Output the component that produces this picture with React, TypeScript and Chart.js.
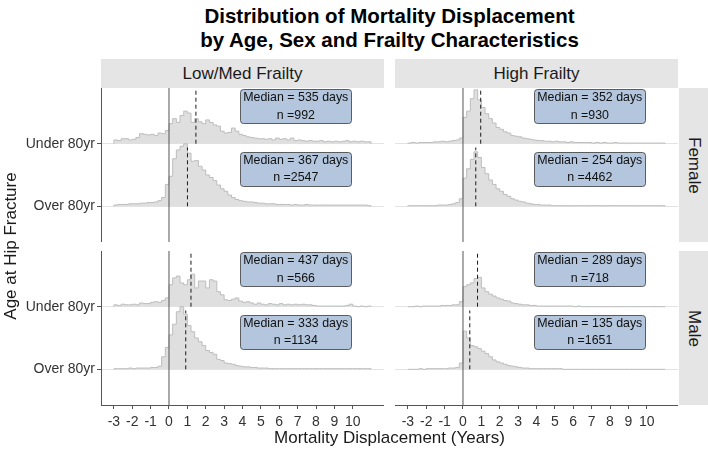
import React, { useEffect, useRef } from 'react';
import { Chart, registerables } from 'chart.js';

Chart.register(...registerables);

const FONT = "'Liberation Sans', Arial, Helvetica, sans-serif";

// ---------------- data ----------------
const titleLines = ['Distribution of Mortality Displacement', 'by Age, Sex and Frailty Characteristics'];
const frailtyGroups = ['Low/Med Frailty', 'High Frailty'];
const sexGroups = ['Female', 'Male'];
const ageGroups = ['Under 80yr', 'Over 80yr'];
const xTicks = [-3, -2, -1, 0, 1, 2, 3, 4, 5, 6, 7, 8, 9, 10];
const xTitle = 'Mortality Displacement (Years)';
const yTitle = 'Age at Hip Fracture';

// histogram bins (years): start and width; values are relative ridge heights (100 = one row spacing)
const binStart = -3;
const binWidth = 0.2;

const femaleLowMedUnder = [
  6, 5, 8, 8, 6, 7, 10, 16, 15, 14,
  15, 13, 17, 16, 21, 32, 40, 34, 45, 52,
  49, 34, 40, 35, 32, 38, 34, 30, 28, 20,
  17, 18, 25, 20, 15, 13, 11, 10, 9, 8,
  8, 7, 8, 6, 9, 7, 8, 6, 9, 5,
  6, 5, 4, 5, 4, 4, 5, 3, 4, 3,
  4, 3, 4, 5, 3, 4, 3, 4, 3, 3,
];
const femaleLowMedOver = [
  2, 3, 3, 3, 4, 4, 4, 5, 5, 6,
  6, 7, 9, 14, 35, 48, 76, 90, 96, 100,
  85, 72, 73, 64, 58, 50, 46, 41, 34, 28,
  24, 18, 14, 11, 9, 8, 7, 7, 6, 5,
  5, 4, 4, 4, 3, 3, 3, 3, 2, 3,
  2, 2, 3, 2, 2, 2, 2, 2, 2, 2,
  2, 2, 2, 2, 2, 2, 2, 2, 2, 1,
];
const femaleHighUnder = [
  1, 2, 1, 2, 2, 2, 2, 3, 3, 4,
  3, 4, 5, 6, 9, 42, 52, 72, 86, 70,
  58, 48, 40, 33, 26, 23, 19, 17, 13, 12,
  11, 9, 8, 7, 6, 5, 5, 4, 4, 3,
  4, 3, 3, 2, 3, 2, 2, 2, 2, 2,
  1, 2, 1, 2, 1, 1, 2, 1, 1, 1,
  1, 1, 1, 1, 1, 1, 1, 1, 1, 1,
];
const femaleHighOver = [
  1, 1, 1, 1, 1, 1, 1, 1, 2, 2,
  2, 3, 4, 6, 12, 45, 60, 75, 87, 78,
  62, 52, 42, 35, 28, 24, 19, 16, 12, 10,
  8, 7, 5, 4, 3, 3, 2, 2, 2, 1,
  1, 1, 1, 1, 1, 1, 1, 1, 1, 1,
  1, 1, 1, 1, 1, 1, 1, 1, 1, 1,
  1, 1, 1, 1, 1, 1, 1, 1, 1, 1,
];
const maleLowMedUnder = [
  3, 2, 4, 3, 3, 4, 3, 6, 5, 5,
  7, 8, 7, 10, 14, 35, 46, 49, 38, 35,
  43, 52, 30, 41, 41, 30, 43, 41, 24, 19,
  11, 10, 12, 14, 9, 7, 8, 6, 4, 6,
  4, 3, 5, 4, 3, 5, 3, 4, 3, 4,
  3, 4, 3, 3, 2, 1, 1, 1, 1, 1,
  1, 1, 1, 2, 4, 1, 0, 1, 0, 1,
];
const maleLowMedOver = [
  1, 1, 1, 1, 2, 1, 2, 2, 2, 2,
  3, 3, 5, 20, 35, 55, 72, 92, 100, 88,
  70, 60, 50, 44, 38, 30, 27, 24, 16, 14,
  10, 9, 8, 6, 5, 4, 4, 3, 3, 2,
  2, 2, 1, 1, 1, 1, 1, 1, 1, 1,
  1, 1, 1, 1, 1, 1, 1, 1, 1, 1,
  1, 1, 1, 1, 1, 1, 1, 1, 1, 1,
];
const maleHighUnder = [
  0, 0, 1, 0, 1, 1, 1, 1, 1, 2,
  2, 2, 3, 3, 8, 32, 35, 38, 45, 47,
  30, 24, 20, 17, 14, 12, 10, 9, 6, 5,
  4, 3, 3, 2, 2, 1, 1, 1, 1, 1,
  1, 1, 1, 1, 1, 0, 1, 0, 0, 0,
  0, 0, 0, 0, 0, 0, 0, 0, 0, 0,
  0, 0, 0, 0, 0, 0, 0, 0, 0, 0,
];
const maleHighOver = [
  0, 0, 0, 1, 0, 1, 1, 1, 1, 1,
  1, 2, 2, 3, 10, 61, 50, 38, 36, 33,
  29, 25, 20, 15, 12, 10, 8, 6, 5, 4,
  3, 2, 2, 1, 1, 1, 1, 1, 1, 1,
  1, 1, 0, 0, 0, 0, 0, 0, 0, 0,
  0, 0, 0, 0, 0, 0, 0, 0, 0, 0,
  0, 0, 0, 0, 0, 0, 0, 0, 0, 0,
];

// medians (days) and counts, order: [Under 80yr, Over 80yr]
const femaleLowMedMedianDays = [535, 367];
const femaleLowMedN = [992, 2547];
const femaleHighMedianDays = [352, 254];
const femaleHighN = [930, 4462];
const maleLowMedMedianDays = [437, 333];
const maleLowMedN = [566, 1134];
const maleHighMedianDays = [289, 135];
const maleHighN = [718, 1651];

// ---------------- layout constants ----------------
const X_MIN = -3.7;
const X_MAX = 11.7;
const Y_MIN = 0.43;
const Y_MAX = 2.89;
const RIDGE_UNIT = 0.01;
const MEDIAN_LINE_H = 0.94;
const LABEL_X = 6.9;
const LABEL_DY = 0.6;

const PANEL_W = 283;
const PANEL_H = 154;
const COL_X = [101, 395];
const ROW_Y = [88, 251];
const Y_AXIS_W = 101;
const X_AXIS_H = 47;

const yPos = (i: number) => ageGroups.length - i; // Under -> 2, Over -> 1

function ridgePoints(values: number[], base: number) {
  const pts: { x: number; y: number }[] = [{ x: binStart, y: base }];
  values.forEach((v, i) => {
    const x0 = binStart + i * binWidth;
    const x1 = binStart + (i + 1) * binWidth;
    const y = base + v * RIDGE_UNIT;
    pts.push({ x: x0, y }, { x: x1, y });
  });
  pts.push({ x: binStart + values.length * binWidth, y: base });
  return pts;
}

type PanelProps = {
  col: number;
  row: number;
  under: number[];
  over: number[];
  medianDays: number[];
  counts: number[];
};

function Panel({ col, row, under, over, medianDays, counts }: PanelProps) {
  const ref = useRef<HTMLCanvasElement | null>(null);
  const showY = col === 0;
  const showX = row === 1;
  const leftW = showY ? Y_AXIS_W : 0;
  const bottomH = showX ? X_AXIS_H : 0;
  const cw = PANEL_W + leftW;
  const ch = PANEL_H + bottomH;
  const left = COL_X[col] - leftW;
  const top = ROW_Y[row];

  useEffect(() => {
    if (!ref.current) return;
    const series = [under, over];
    const medYears = medianDays.map((d) => d / 365.25);

    const labelPlugin = {
      id: 'medianLabels',
      afterDatasetsDraw(chart: any) {
        const { ctx, scales } = chart;
        ctx.save();
        ctx.font = `12.4px ${FONT}`;
        ageGroups.forEach((_, i) => {
          const lines = [`Median = ${medianDays[i]} days`, `n =${counts[i]}`];
          const cx = scales.x.getPixelForValue(LABEL_X);
          const cy = scales.y.getPixelForValue(yPos(i) + LABEL_DY);
          const tw = Math.max(...lines.map((l) => ctx.measureText(l).width));
          const w = tw + 6;
          const h = 34;
          ctx.beginPath();
          ctx.roundRect(Math.round(cx - w / 2) + 0.5, Math.round(cy - h / 2) + 0.5, Math.round(w), h, 3);
          ctx.fillStyle = '#B3C6DD';
          ctx.fill();
          ctx.lineWidth = 0.8;
          ctx.strokeStyle = '#3a3a3a';
          ctx.stroke();
          ctx.fillStyle = '#111111';
          ctx.textAlign = 'center';
          ctx.textBaseline = 'middle';
          ctx.fillText(lines[0], cx, cy - 8.3);
          ctx.fillText(lines[1], cx, cy + 9);
        });
        ctx.restore();
      },
    };

    const datasets: any[] = [];
    // median dashed lines
    ageGroups.forEach((_, i) => {
      datasets.push({
        data: [
          { x: medYears[i], y: yPos(i) },
          { x: medYears[i], y: yPos(i) + MEDIAN_LINE_H },
        ],
        borderColor: '#1a1a1a',
        borderWidth: 1,
        borderDash: [4, 3],
        pointRadius: 0,
        fill: false,
        order: 0,
      });
    });
    // zero reference line
    datasets.push({
      data: [
        { x: 0, y: Y_MIN },
        { x: 0, y: Y_MAX },
      ],
      borderColor: '#555555',
      borderWidth: 1,
      pointRadius: 0,
      fill: false,
      order: 1,
    });
    // ridges: Under (top row) drawn first, Over drawn above it
    ageGroups.forEach((_, i) => {
      datasets.push({
        data: ridgePoints(series[i], yPos(i)),
        borderColor: '#BDBDBD',
        borderWidth: 1,
        backgroundColor: '#DFDFDF',
        fill: { value: yPos(i) },
        pointRadius: 0,
        stepped: true,
        order: 2 + yPos(i),
      });
    });

    const chart = new Chart(ref.current, {
      type: 'line',
      data: { datasets },
      options: {
        responsive: false,
        animation: false,
        events: [],
        layout: { padding: 0 },
        plugins: { legend: { display: false }, tooltip: { enabled: false } },
        scales: {
          x: {
            type: 'linear',
            display: showX,
            min: X_MIN,
            max: X_MAX,
            afterBuildTicks: (a: any) => {
              a.ticks = xTicks.map((v) => ({ value: v }));
            },
            afterFit: (a: any) => {
              a.height = showX ? X_AXIS_H : 0;
              a.paddingLeft = 0;
              a.paddingRight = 0;
              a.paddingTop = 0;
              a.paddingBottom = 0;
            },
            ticks: {
              autoSkip: false,
              maxRotation: 0,
              padding: 5,
              color: '#333333',
              font: { family: FONT, size: 14 },
              callback: (v: any) => String(v),
            },
            grid: {
              display: true,
              drawOnChartArea: false,
              drawTicks: true,
              tickLength: 4,
              tickColor: '#555555',
            },
            border: { display: true, color: '#555555', width: 1 },
          },
          y: {
            type: 'linear',
            min: Y_MIN,
            max: Y_MAX,
            afterBuildTicks: (a: any) => {
              a.ticks = ageGroups.map((_, i) => ({ value: yPos(i) }));
            },
            afterFit: (a: any) => {
              a.width = showY ? Y_AXIS_W : 0;
              a.paddingLeft = 0;
              a.paddingRight = 0;
              a.paddingTop = 0;
              a.paddingBottom = 0;
            },
            ticks: {
              display: showY,
              padding: 2,
              color: '#333333',
              font: { family: FONT, size: 14 },
              callback: (v: any) => ageGroups[ageGroups.length - Number(v)],
            },
            grid: {
              color: '#E3E3E3',
              lineWidth: 1,
              drawTicks: showY,
              tickLength: 4,
              tickColor: '#555555',
            },
            border: { display: showY, color: '#555555', width: 1 },
          },
        },
      },
      plugins: [labelPlugin],
    } as any);
    return () => chart.destroy();
  }, []);

  return (
    <canvas
      ref={ref}
      width={cw}
      height={ch}
      style={{ position: 'absolute', left, top, width: cw, height: ch, display: 'block' }}
    />
  );
}

const stripStyle: React.CSSProperties = {
  position: 'absolute',
  background: '#E5E5E5',
  color: '#1A1A1A',
  fontFamily: FONT,
  fontSize: 17,
  display: 'flex',
  alignItems: 'center',
  justifyContent: 'center',
};

export default function App() {
  const panelData = [
    [
      { under: femaleLowMedUnder, over: femaleLowMedOver, medianDays: femaleLowMedMedianDays, counts: femaleLowMedN },
      { under: femaleHighUnder, over: femaleHighOver, medianDays: femaleHighMedianDays, counts: femaleHighN },
    ],
    [
      { under: maleLowMedUnder, over: maleLowMedOver, medianDays: maleLowMedMedianDays, counts: maleLowMedN },
      { under: maleHighUnder, over: maleHighOver, medianDays: maleHighMedianDays, counts: maleHighN },
    ],
  ];
  const areaLeft = COL_X[0];
  const areaW = COL_X[1] + PANEL_W - COL_X[0];
  return (
    <div style={{ position: 'fixed', left: 0, top: 0, width: 708, height: 452, background: '#fff', overflow: 'hidden' }}>
      <div
        style={{
          position: 'absolute',
          left: areaLeft,
          width: areaW,
          top: 4,
          textAlign: 'center',
          fontFamily: FONT,
          fontWeight: 'bold',
          fontSize: 20.5,
          lineHeight: '24px',
          color: '#000',
        }}
      >
        {titleLines.map((t) => (
          <div key={t}>{t}</div>
        ))}
      </div>
      {frailtyGroups.map((f, c) => (
        <div key={f} style={{ ...stripStyle, left: COL_X[c], top: 59, width: PANEL_W, height: ROW_Y[0] - 59 }}>
          {f}
        </div>
      ))}
      {sexGroups.map((s, r) => (
        <div
          key={s}
          style={{ ...stripStyle, left: COL_X[1] + PANEL_W + 1, top: ROW_Y[r], width: 708 - (COL_X[1] + PANEL_W + 1), height: PANEL_H }}
        >
          <span style={{ writingMode: 'vertical-rl' }}>{s}</span>
        </div>
      ))}
      {panelData.map((rowData, r) =>
        rowData.map((p, c) => (
          <Panel key={`${r}-${c}`} col={c} row={r} under={p.under} over={p.over} medianDays={p.medianDays} counts={p.counts} />
        ))
      )}
      <div
        style={{
          position: 'absolute',
          left: areaLeft,
          width: areaW,
          top: 428,
          textAlign: 'center',
          fontFamily: FONT,
          fontSize: 17,
          lineHeight: '20px',
          color: '#1A1A1A',
        }}
      >
        {xTitle}
      </div>
      <div
        style={{
          position: 'absolute',
          left: 11 - 120,
          top: 246 - 10,
          width: 240,
          height: 20,
          lineHeight: '20px',
          textAlign: 'center',
          fontFamily: FONT,
          fontSize: 17,
          color: '#1A1A1A',
          transform: 'rotate(-90deg)',
        }}
      >
        {yTitle}
      </div>
    </div>
  );
}
